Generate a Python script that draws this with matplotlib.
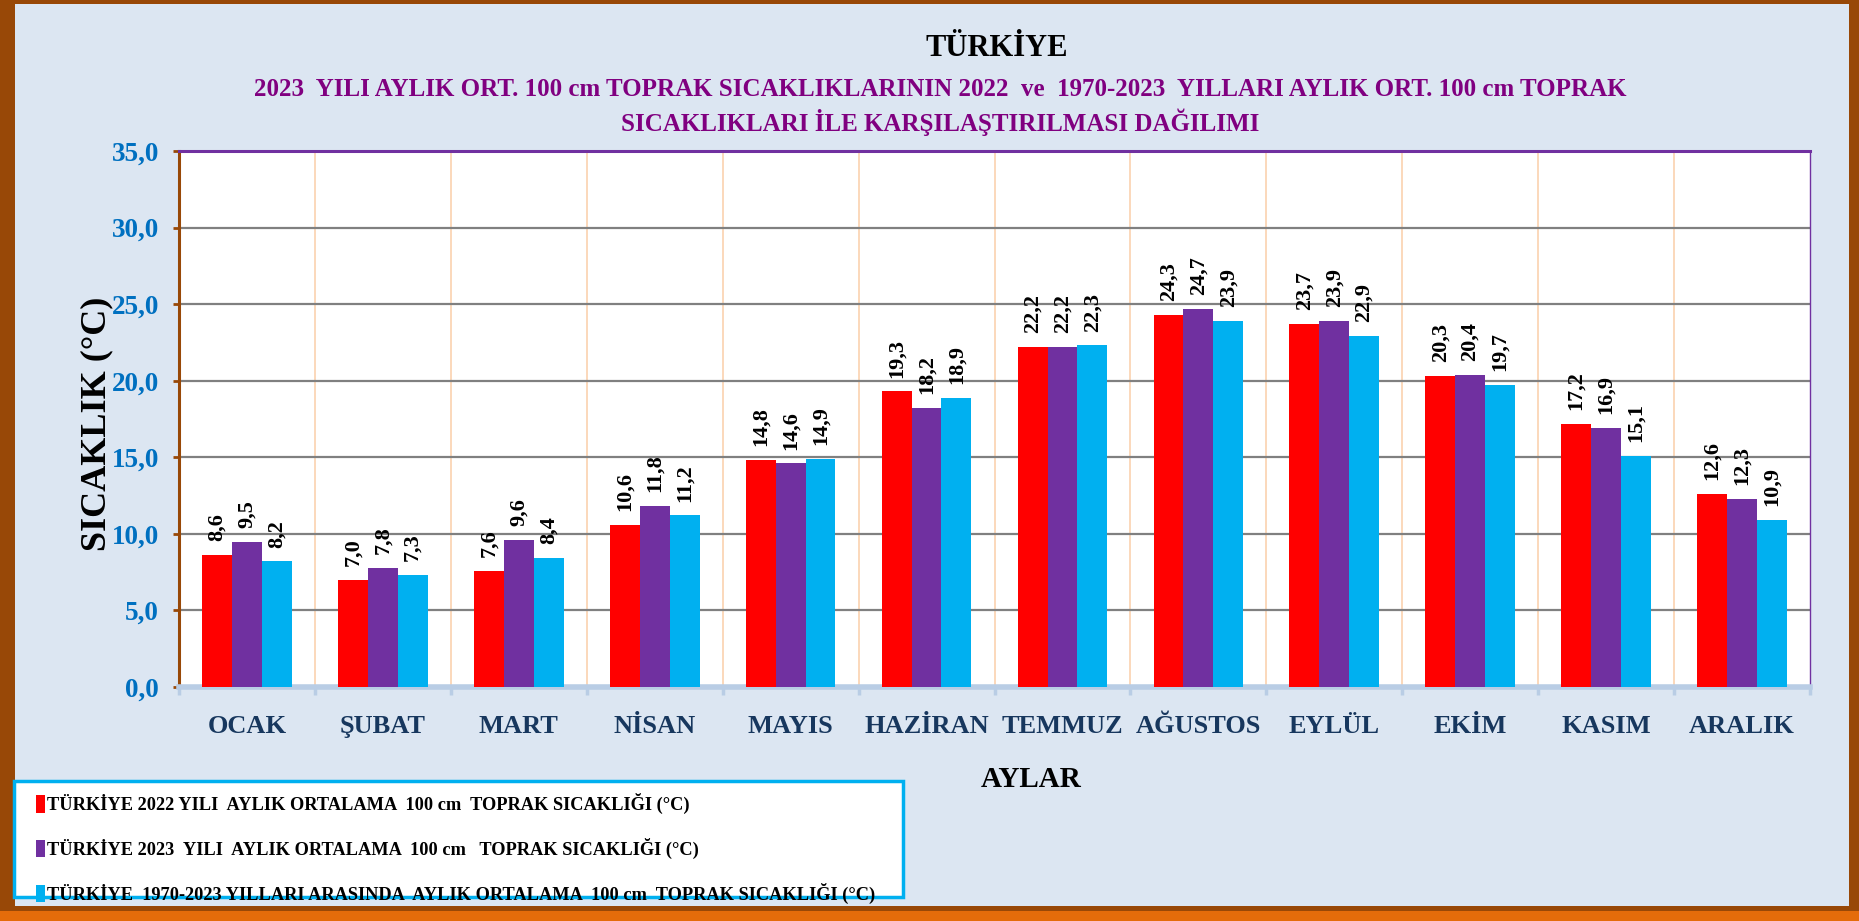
"""
Türkiye 100 cm soil temperature comparison chart (2022 / 2023 / 1970-2023).
"""

import numpy as np
import matplotlib
matplotlib.use('Agg')
import matplotlib.pyplot as plt
from matplotlib.patches import Rectangle, Patch

# Data
months = ['OCAK', 'ŞUBAT', 'MART', 'NİSAN', 'MAYIS', 'HAZİRAN',
          'TEMMUZ', 'AĞUSTOS', 'EYLÜL', 'EKİM', 'KASIM', 'ARALIK']
temp_2022 = [8.6, 7.0, 7.6, 10.6, 14.8, 19.3, 22.2, 24.3, 23.7, 20.3, 17.2, 12.6]
temp_2023 = [9.5, 7.8, 9.6, 11.8, 14.6, 18.2, 22.2, 24.7, 23.9, 20.4, 16.9, 12.3]
temp_normal = [8.2, 7.3, 8.4, 11.2, 14.9, 18.9, 22.3, 23.9, 22.9, 19.7, 15.1, 10.9]
series_labels = [
    'TÜRKİYE 2022 YILI  AYLIK ORTALAMA  100 cm  TOPRAK SICAKLIĞI (°C)',
    'TÜRKİYE 2023  YILI  AYLIK ORTALAMA  100 cm   TOPRAK SICAKLIĞI (°C)',
    'TÜRKİYE  1970-2023 YILLARI ARASINDA  AYLIK ORTALAMA  100 cm  TOPRAK SICAKLIĞI (°C)',
]
y_ticks = [0, 5, 10, 15, 20, 25, 30, 35]

colors = ['#FF0000', '#7030A0', '#00B0F0']
FONT = ['Liberation Serif', 'DejaVu Serif']
W, H = 1859, 921

plt.rcParams['font.family'] = FONT

fig = plt.figure(figsize=(W / 100, H / 100), dpi=100)
fig.patch.set_facecolor('#984807')

# inner light-blue panel and bottom orange shadow
fig.patches.append(Rectangle((0, 0), 1, 10 / H, transform=fig.transFigure,
                             facecolor='#E46C0A', edgecolor='none', zorder=-10))
fig.patches.append(Rectangle((15 / W, 1 - 906 / H), (1849 - 15) / W, (906 - 4) / H,
                             transform=fig.transFigure, facecolor='#DCE6F2',
                             edgecolor='none', zorder=-10))

left, right, top, bottom = 179, 1810, 151, 687
ax = fig.add_axes([left / W, 1 - bottom / H, (right - left) / W, (bottom - top) / H])
ax.set_facecolor('white')

x = np.arange(len(months))
bw = 0.22
for i, (vals, c) in enumerate(zip([temp_2022, temp_2023, temp_normal], colors)):
    pos = x + (i - 1) * bw
    ax.bar(pos, vals, width=bw, color=c, edgecolor='none', zorder=3)
    for xp, v in zip(pos, vals):
        ax.annotate(f'{v:.1f}'.replace('.', ','), (xp, v), xytext=(0, 10),
                    textcoords='offset points', rotation=90, ha='center',
                    va='bottom', fontsize=16, fontweight='bold', color='black',
                    zorder=4)

ax.set_xlim(-0.5, len(months) - 0.5)
ax.set_ylim(0, 35)
ax.set_yticks(y_ticks)
ax.set_yticklabels([f'{t:.1f}'.replace('.', ',') for t in y_ticks],
                   fontsize=19.5, fontweight='bold', color='#0070C0')
ax.yaxis.grid(True, color='#808080', linewidth=1.6, zorder=1)
for b in np.arange(0.5, len(months) - 0.5):
    ax.axvline(b, color='#FBD5B5', linewidth=1.3, zorder=1)

ax.set_xticks(x)
ax.set_xticklabels(months, fontsize=19, fontweight='bold', color='#17375E')
ax.set_xticks(np.arange(-0.5, len(months)), minor=True)
ax.tick_params(axis='x', which='major', length=0, pad=20)
ax.tick_params(axis='x', which='minor', length=6, width=2.5, color='#B9CDE5')
ax.tick_params(axis='y', length=4.5, width=2, color='#984807', pad=10)

ax.spines['left'].set_color('#984807')
ax.spines['left'].set_linewidth(2.2)
ax.spines['top'].set_color('#7030A0')
ax.spines['top'].set_linewidth(2.2)
ax.spines['right'].set_color('#7030A0')
ax.spines['right'].set_linewidth(1.0)
ax.spines['bottom'].set_color('#B9CDE5')
ax.spines['bottom'].set_linewidth(4)

fig.text(97 / W, 1 - 424 / H, 'SICAKLIK (°C)', rotation=90, ha='center',
         va='center', fontsize=26, fontweight='bold', color='black')

# titles
fig.text(997 / W, 1 - 49 / H, 'TÜRKİYE', ha='center', va='center',
         fontsize=22, fontweight='bold', color='black')
fig.text(940 / W, 1 - 89 / H,
         '2023  YILI AYLIK ORT. 100 cm TOPRAK SICAKLIKLARININ 2022  ve  1970-2023  YILLARI AYLIK ORT. 100 cm TOPRAK',
         ha='center', va='center', fontsize=18, fontweight='bold', color='#800080')
fig.text(940 / W, 1 - 122 / H, 'SICAKLIKLARI İLE KARŞILAŞTIRILMASI DAĞILIMI',
         ha='center', va='center', fontsize=18, fontweight='bold', color='#800080')

fig.text(1031 / W, 1 - 779 / H, 'AYLAR', ha='center', va='center',
         fontsize=21, fontweight='bold', color='black')

# legend box
fig.patches.append(Rectangle((14 / W, 1 - 897 / H), (903 - 14) / W, (897 - 781) / H,
                             transform=fig.transFigure, facecolor='white',
                             edgecolor='#00B0F0', linewidth=2.5, zorder=1))
handles = [Patch(facecolor=c, edgecolor='none') for c in colors]
leg = fig.legend(handles, series_labels, loc='upper left',
                 bbox_to_anchor=(36 / W, 1 - 793 / H), frameon=False,
                 handlelength=0.5, handleheight=1.1, handletextpad=0.1,
                 labelspacing=1.3, borderpad=0, borderaxespad=0,
                 prop={'family': FONT, 'weight': 'bold', 'size': 13.2})
leg.set_zorder(2)

fig.savefig('out.png', dpi=100, facecolor=fig.get_facecolor())
